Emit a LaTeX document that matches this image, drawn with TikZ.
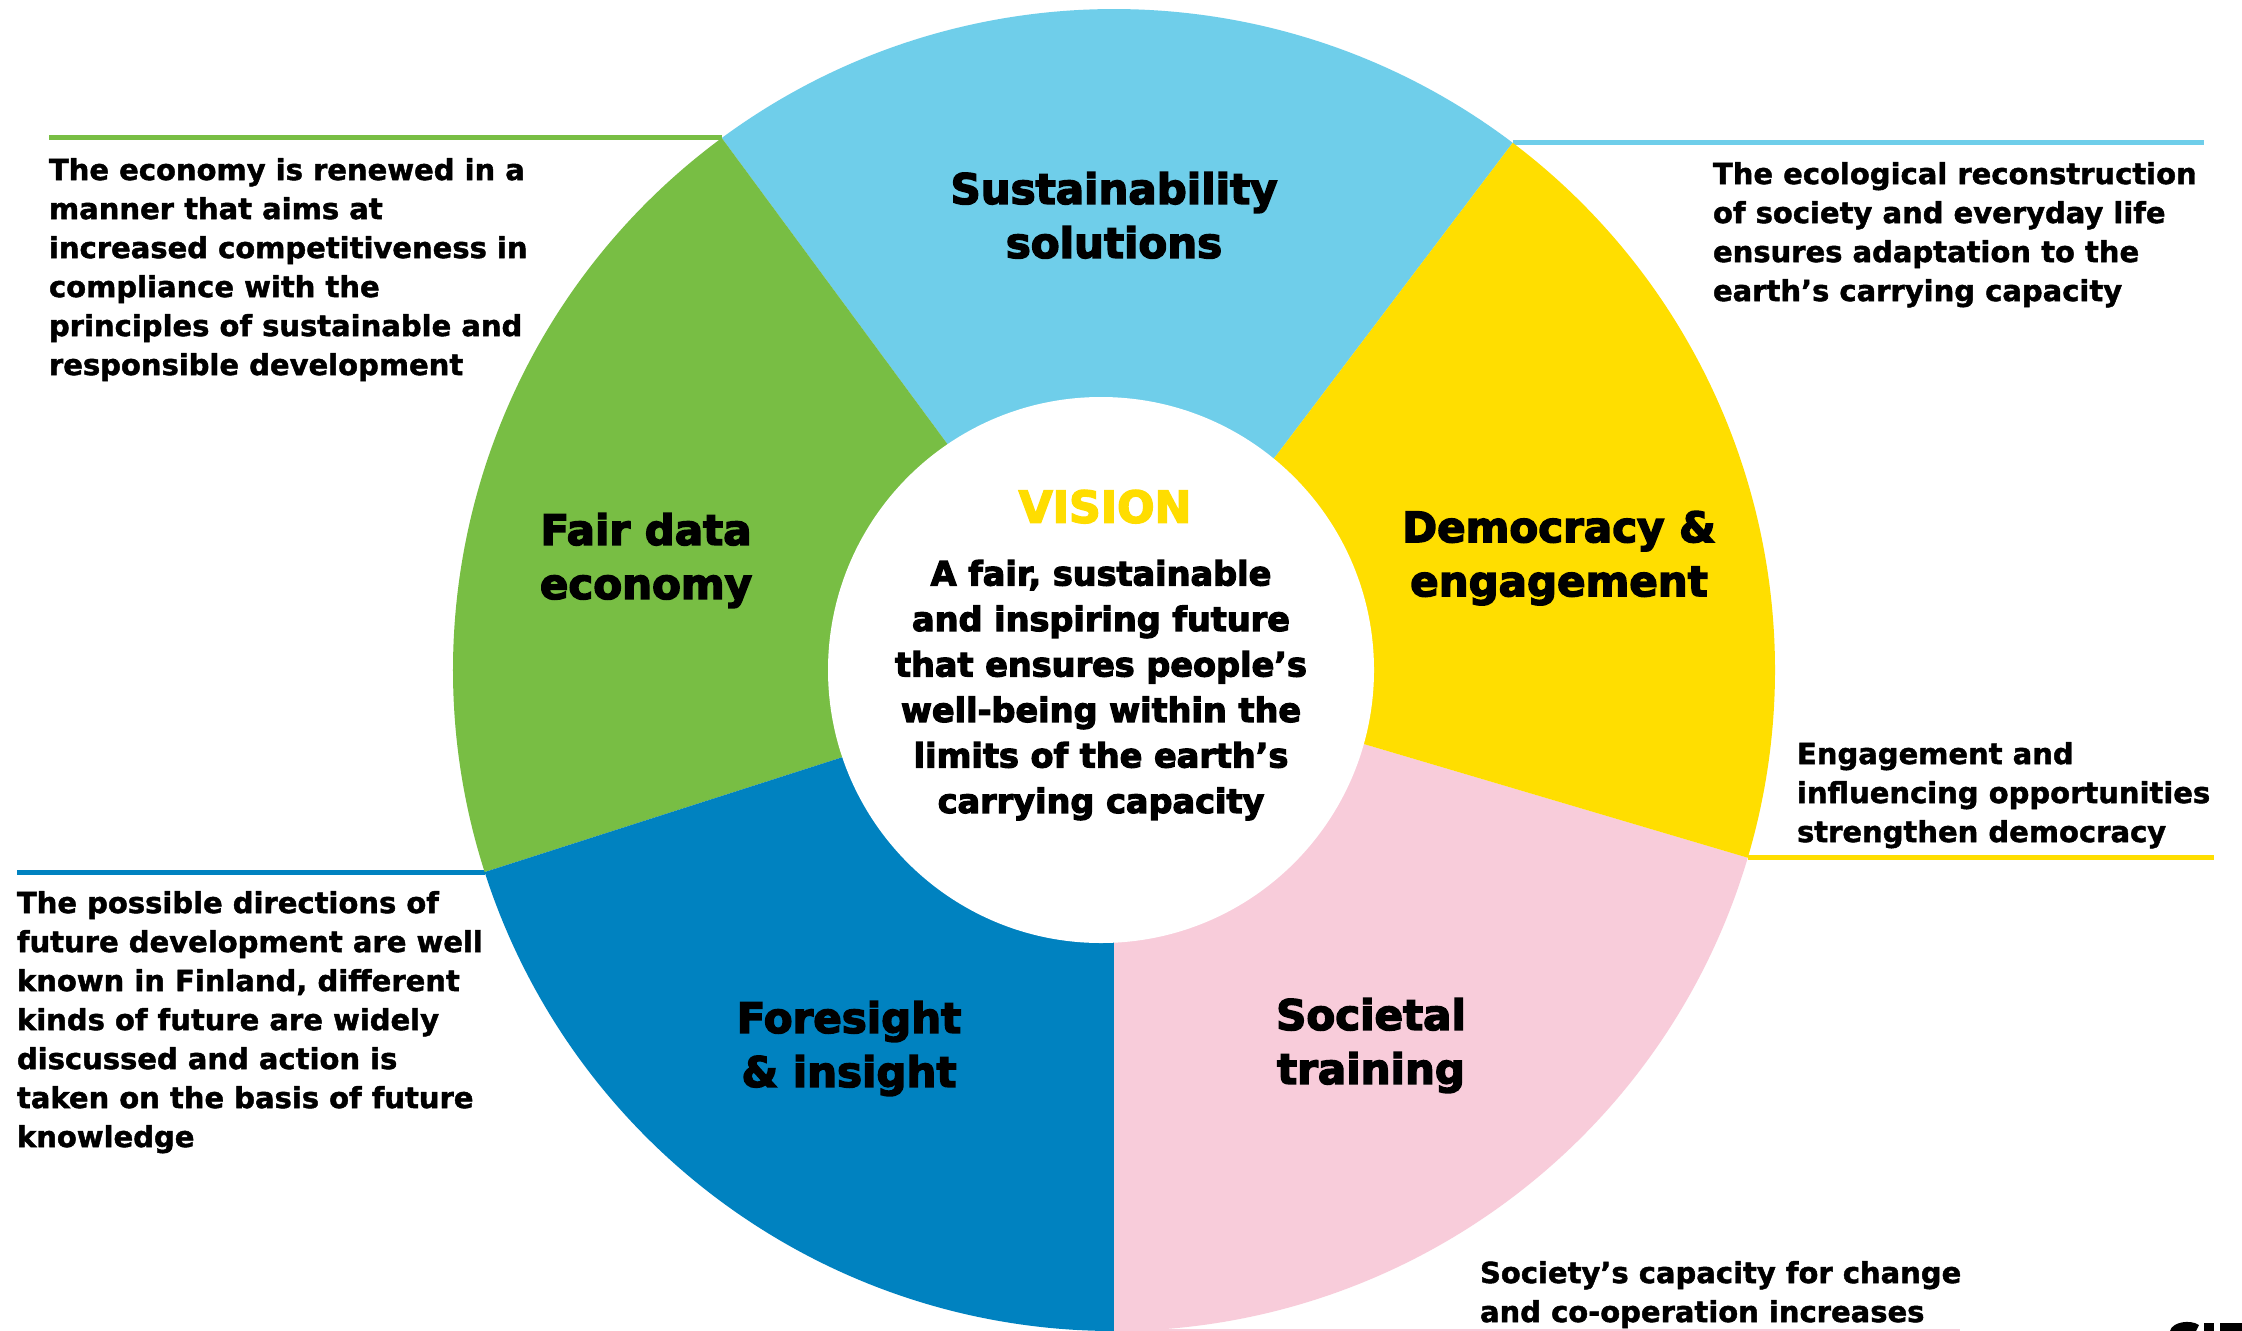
\documentclass[tikz,border=0pt]{standalone}
\usepackage{fontspec}
\setmainfont{DejaVu Sans}
\newfontfamily\heavyfont{DejaVu Sans Bold}[FakeBold=3.5]
\newfontfamily\parafont{DejaVu Sans Bold}[FakeBold=1.5]
\definecolor{csky}{RGB}{111,206,234}
\definecolor{cgreen}{RGB}{120,190,68}
\definecolor{cblue}{RGB}{0,130,192}
\definecolor{cpink}{RGB}{248,204,218}
\definecolor{cyellow}{RGB}{255,222,0}
\definecolor{cvision}{RGB}{255,221,0}
\begin{document}
\begin{tikzpicture}[x=1pt, y=-1pt,
  every node/.style={inner sep=0pt, outer sep=0pt},
  para/.style={anchor=north west, align=left, font=\parafont\fontsize{29}{39}\selectfont},
  title/.style={anchor=north, align=center, font=\heavyfont\fontsize{42}{54}\selectfont},
  vis/.style={anchor=north, font=\heavyfont\fontsize{44}{50}\selectfont, text=cvision},
  body/.style={anchor=north, align=center, font=\heavyfont\fontsize{33.5}{45.5}\selectfont},
  lead/.style={line width=5pt}]
\useasboundingbox (0,0) rectangle (2242,1330);
\clip (0,0) rectangle (2242,1330);
\fill[white] (0,0) rectangle (2242,1330);

% centres
\coordinate (O) at (1114,670);
\coordinate (I) at (1101,670);
% sector corners on the outer circle (angles mirrored since y points down)
\path (O) ++(-52.9:661) coordinate (cSY);
\path (O) ++(-126.4:661) coordinate (cGS);
\path (O) ++(-197.8:661) coordinate (cBG);
\path (O) ++(-343.5:661) coordinate (cYP);
% free ends of the leader lines
\coordinate (eG) at (49,0);
\coordinate (eS) at (2204,0);
\coordinate (eY) at (2214,0);
\coordinate (eB) at (17,0);
\coordinate (eP) at (1960,1330.5);
\coordinate (sP) at (1114,1330.5);

% leader lines
\draw[lead, cgreen] (cGS) -- (cGS -| eG);
\draw[lead, csky] (cSY) -- (cSY -| eS);
\draw[lead, cyellow] (cYP) -- (cYP -| eY);
\draw[lead, cblue] (cBG) -- (cBG -| eB);
\draw[line width=3pt, cpink] (sP) -- (eP);

% sectors
\fill[csky] (O) -- ++(-52.9:661) arc[start angle=-52.9, end angle=-126.4, radius=661] -- cycle;
\fill[cgreen] (O) -- ++(-126.4:661) arc[start angle=-126.4, end angle=-197.8, radius=661] -- cycle;
\fill[cblue] (O) -- ++(-197.8:661) arc[start angle=-197.8, end angle=-270, radius=661] -- cycle;
\fill[cpink] (O) -- ++(-270:661) arc[start angle=-270, end angle=-343.5, radius=661] -- cycle;
\fill[cyellow] (O) -- ++(-343.5:661) arc[start angle=-343.5, end angle=-412.9, radius=661] -- cycle;
\fill[white] (I) circle[radius=273];

% sector titles
\node[title] (tSus) at (1114,172) {Sustainability\\solutions};
\node[title] (tFair) at (646,513) {Fair data\\economy};
\node[title] (tDem) at (1559,511) {Democracy \&\\engagement};
\node[title] (tFor) at (849,1001) {Foresight\\\& insight};
\node[title] (tSoc) at (1371,998) {Societal\\training};

% vision
\node[vis] (vis) at (1105,490) {VISION};
\node[body] (vbody) at (1101,560) {A fair, sustainable\\and inspiring future\\that ensures people’s\\well-being within the\\limits of the earth’s\\carrying capacity};

% descriptions
\node[para] (dTL) at (49,158) {The economy is renewed in a\\manner that aims at\\increased competitiveness in\\compliance with the\\principles of sustainable and\\responsible development};
\node[para] (dTR) at (1713,162) {The ecological reconstruction\\of society and everyday life\\ensures adaptation to the\\earth’s carrying capacity};
\node[para] (dRM) at (1797,742) {Engagement and\\influencing opportunities\\strengthen democracy};
\node[para] (dBL) at (17,891) {The possible directions of\\future development are well\\known in Finland, different\\kinds of future are widely\\discussed and action is\\taken on the basis of future\\knowledge};
\node[para] (dBR) at (1480,1261) {Society’s capacity for change\\and co-operation increases};

% cut-off logo fragment at the bottom right corner
\fill[black] (2170,1331) .. controls (2172,1322) and (2190,1319) .. (2199,1325) -- (2196,1331) -- cycle;
\fill[black] (2204,1323) rectangle (2214,1331);
\fill[black] (2220,1323) rectangle (2242,1331);
\end{tikzpicture}
\end{document}
